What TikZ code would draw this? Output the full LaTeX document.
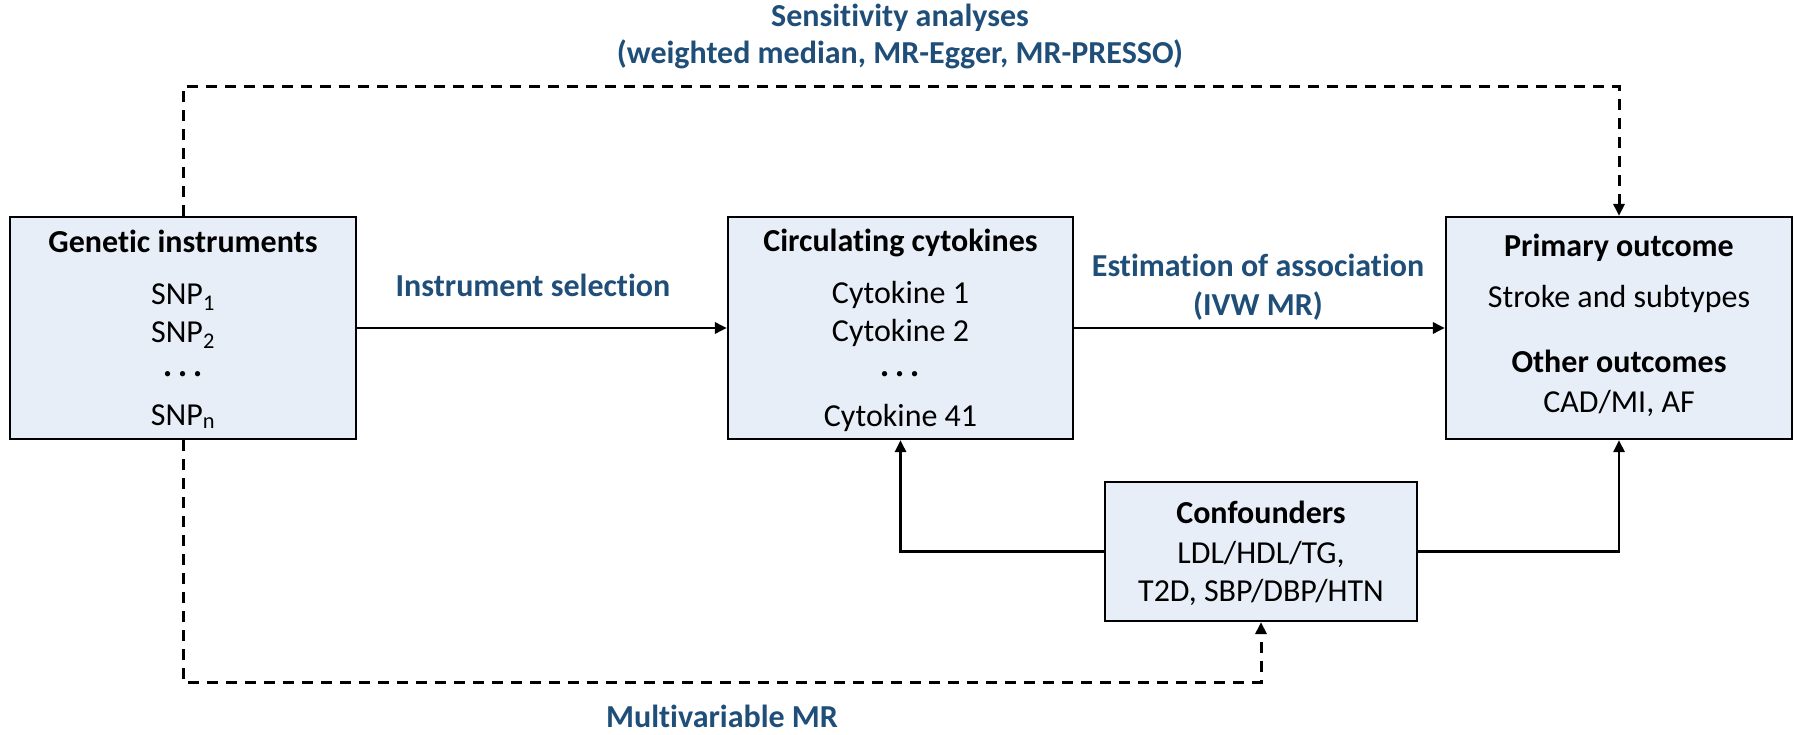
\documentclass[tikz,border=0pt]{standalone}
\usepackage{fontspec}
\setmainfont{Carlito}[Ligatures={NoCommon,NoRare,NoContextual}]
\usetikzlibrary{arrows.meta}
\definecolor{boxfill}{RGB}{232,238,248}
\definecolor{lblue}{RGB}{31,78,121}
\newcommand{\tnoi}{t\kern0pt i}
\begin{document}
\begin{tikzpicture}[x=1pt,y=-1pt,
  box/.style={draw=black, line width=2.2pt, fill=boxfill, inner sep=0pt, minimum height=222pt, minimum width=346pt},
  txt/.style={anchor=base, inner sep=0pt, font=\fontsize{32}{38}\selectfont},
  dots/.style={anchor=base, inner sep=0pt, font=\fontsize{44}{44}\selectfont},
  hd/.style={anchor=base, inner sep=0pt, font=\fontsize{32}{38}\selectfont\bfseries},
  lbl/.style={anchor=base, inner sep=0pt, text=lblue, font=\fontsize{32}{38}\selectfont\bfseries},
  arr/.style={line width=2.8pt, -{Triangle[length=12pt,width=11pt]}},
  darr/.style={arr, line width=3pt, dash pattern=on 11pt off 8pt}]
\useasboundingbox (0,0) rectangle (1800,735);

% boxes
\node[box] (gen) at (183,328) {};
\node[box, minimum width=345pt] (cyt) at (900.5,328) {};
\node[box] (out) at (1619,328) {};
\node[box, minimum width=312pt, minimum height=139pt] (conf) at (1261,551.5) {};

% box texts
\node[hd]  (genh) at (183,253) {Genetic instruments};
\node[txt] (snp1) at (183,305) {SNP\textsubscript{1}};
\node[txt] (snp2) at (183,343) {SNP\textsubscript{2}};
\node[dots] (gdots) at (183,377) {.\hspace{4pt}.\hspace{4pt}.};
\node[txt] (snpn) at (183,425) {SNP\textsubscript{n}};

\node[hd]  (cyth) at (900.5,252) {Circulating cytokines};
\node[txt] (cyt1) at (900.5,304) {Cytokine 1};
\node[txt] (cyt2) at (900.5,342) {Cytokine 2};
\node[dots] (cdots) at (900.5,377) {.\hspace{4pt}.\hspace{4pt}.};
\node[txt] (cyt41) at (900.5,426) {Cytokine 41};

\node[hd]  (outh) at (1619,257) {Primary outcome};
\node[txt] (out1) at (1619,308) {Stroke and subtypes};
\node[hd]  (outh2) at (1619,373) {Other outcomes};
\node[txt] (out2) at (1619,412) {CAD/MI, AF};

\node[hd]  (confh) at (1261,523) {Confounders};
\node[txt] (conf1) at (1261,563) {LDL/HDL/TG,};
\node[txt] (conf2) at (1261,601) {T2D, SBP/DBP/HTN};

% labels
\node[lbl] (sens1) at (900,27) {Sensi\tnoi vity analyses};
\node[lbl] (sens2) at (900,64) {(weighted median, MR-Egger, MR-PRESSO)};
\node[lbl] (isel) at (533,297) {Instrument selection};
\node[lbl] (est1) at (1258,277) {Estima\tnoi on of associa\tnoi on};
\node[lbl] (est2) at (1258,316) {(IVW MR)};
\node[lbl] (mvmr) at (722,727) {Mul\tnoi variable MR};

% connectors
\coordinate (sensline) at (900,87);
\coordinate (mvline) at (722,682);
\draw[arr] (gen) -- (cyt);
\draw[arr] (cyt) -- (out);
\draw[arr] (conf.west) -| (cyt.south);
\draw[arr] (conf.east) -| (out.south);
\draw[darr] (gen.north) |- (sensline) -| (out.north);
\draw[darr] (gen.south) |- (mvline) -| (conf.south);
\end{tikzpicture}
\end{document}
